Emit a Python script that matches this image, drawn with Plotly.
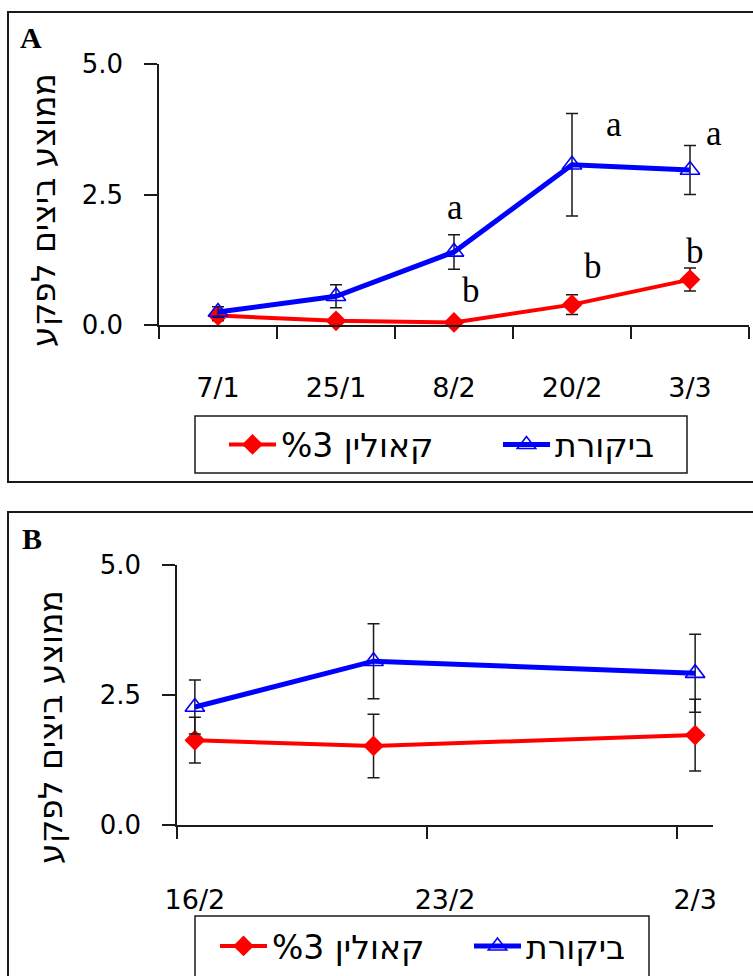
import plotly.graph_objects as go

W, H = 753, 976

# ---------------- data ----------------
# Panel A (category axis)
dates_a = ["7/1", "25/1", "8/2", "20/2", "3/3"]
control_a = [0.25, 0.55, 1.40, 3.07, 2.97]
control_a_err = [0.10, 0.22, 0.33, 0.98, 0.47]
kaolin_a = [0.18, 0.08, 0.05, 0.39, 0.87]
kaolin_a_err = [0.10, 0.04, 0.03, 0.19, 0.22]

# significance letters (panel A)
sig_dates = ["8/2", "8/2", "20/2", "20/2", "3/3", "3/3"]
sig_text = ["a", "b", "a", "b", "a", "b"]

# Panel B (date axis, year without 29 Feb)
dates_b = ["2009-02-16", "2009-02-21", "2009-03-02"]
control_b = [2.27, 3.15, 2.92]
control_b_err = [0.52, 0.72, 0.75]
kaolin_b = [1.63, 1.52, 1.73]
kaolin_b_err = [0.44, 0.61, 0.69]
tick_dates_b = ["2009-02-16", "2009-02-23", "2009-03-02"]
tick_text_b = ["16/2", "23/2", "2/3"]

y_ticks = [0, 2.5, 5.0]
y_tick_text = ["0.0", "2.5", "5.0"]

name_control = "ביקורת"
name_kaolin = "%3 קאולין"
y_title = "ממוצע ביצים לפקע"

# ---------------- helpers ----------------
def px(x):
    return x / W

def py(y):
    return 1 - y / H

RED = "#ff0000"
BLUE = "#0000ff"
INK = "#1a1a1a"
SANS = "DejaVu Sans"
SERIF = "Liberation Serif"

fig = go.Figure()

def add_series(x, y, err, name, color, symbol, msize, lw, xa, ya, legend, mline=None):
    fig.add_trace(go.Scatter(
        x=x, y=y, name=name, mode="lines+markers",
        line=dict(color=color, width=lw),
        marker=dict(symbol=symbol, size=msize, color=color,
                    line=dict(color=color, width=mline if mline else 0)),
        error_y=dict(type="data", array=err, visible=True, color=INK,
                     thickness=1.5, width=6),
        xaxis=xa, yaxis=ya, legend=legend, cliponaxis=False,
    ))

add_series(dates_a, kaolin_a, kaolin_a_err, name_kaolin, RED, "diamond", 16, 4, "x", "y", "legend")
add_series(dates_a, control_a, control_a_err, name_control, BLUE, "triangle-up-open", 17, 5, "x", "y", "legend", 1.6)
add_series(dates_b, kaolin_b, kaolin_b_err, name_kaolin, RED, "diamond", 16, 4, "x2", "y2", "legend2")
add_series(dates_b, control_b, control_b_err, name_control, BLUE, "triangle-up-open", 17, 5, "x2", "y2", "legend2", 1.6)

axis_common = dict(showline=True, linecolor=INK, linewidth=1.5, showgrid=False,
                   zeroline=False, ticks="outside", tickwidth=1.5, tickcolor=INK)

yaxis_common = dict(axis_common, range=[0, 5], tickvals=y_ticks, ticktext=y_tick_text,
                    ticklen=13, tickfont=dict(family=SANS, size=26, color="black"),
                    ticklabelstandoff=16)

legend_common = dict(orientation="h", xanchor="left", yanchor="middle",
                     font=dict(family=SANS, size=33, color="black"),
                     bgcolor="rgba(0,0,0,0)", borderwidth=0, itemwidth=47,
                     entrywidthmode="pixels", traceorder="normal")

fig.update_layout(
    width=W, height=H,
    margin=dict(l=0, r=0, t=0, b=0, autoexpand=False),
    paper_bgcolor="white", plot_bgcolor="white",
    showlegend=True,
    xaxis=dict(axis_common, domain=[px(159), px(749)], anchor="y", type="category",
               range=[-0.5, 4.5], tickson="boundaries", ticklen=12,
               tickfont=dict(family=SANS, size=27, color="black"),
               ticklabelstandoff=38),
    yaxis=dict(yaxis_common, domain=[py(325), py(64)], anchor="x"),
    xaxis2=dict(axis_common, domain=[px(177), px(713)], anchor="y2", type="date",
                range=["2009-02-15 12:00", "2009-03-02 12:00"],
                tickvals=tick_dates_b, ticktext=tick_text_b, ticklen=12,
                tickcolor="rgba(0,0,0,0)",
                minor=dict(tickvals=["2009-02-15 12:00", "2009-02-22 12:00", "2009-03-01 12:00"],
                           ticks="outside", ticklen=12, tickwidth=1.5, tickcolor=INK, showgrid=False),
                tickfont=dict(family=SANS, size=27, color="black"),
                ticklabelstandoff=38),
    yaxis2=dict(yaxis_common, domain=[py(825), py(565)], anchor="x2"),
    legend=dict(legend_common, x=px(224), y=py(444.5), entrywidth=212),
    legend2=dict(legend_common, x=px(215), y=py(946), entrywidth=192),
)

# frames of the two panels and of the legends
frame = dict(type="rect", xref="paper", yref="paper", line=dict(color=INK, width=2),
             fillcolor="rgba(0,0,0,0)", layer="below")
fig.add_shape(frame, x0=px(8), x1=px(760), y0=py(482), y1=py(12))
fig.add_shape(frame, x0=px(8), x1=px(760), y0=py(990), y1=py(512))
fig.add_shape(dict(frame, line=dict(color=INK, width=1.5)), x0=px(195), x1=px(687), y0=py(473), y1=py(416))
fig.add_shape(dict(frame, line=dict(color=INK, width=1.5)), x0=px(195), x1=px(649), y0=py(990), y1=py(916))

# panel letters
for letter, (lx, ly) in zip(["A", "B"], [(31, 38), (32, 538)]):
    fig.add_annotation(text=letter, xref="paper", yref="paper", x=px(lx), y=py(ly),
                       showarrow=False, xanchor="center", yanchor="middle",
                       font=dict(family=SERIF, size=30, color="black", weight="bold"))

# y titles
for (tx, ty) in [(43, 210), (50, 727)]:
    fig.add_annotation(text=y_title, xref="paper", yref="paper", x=px(tx), y=py(ty),
                       showarrow=False, textangle=-90, xanchor="center", yanchor="middle",
                       font=dict(family=SANS, size=33, color="black"))

# significance letters (data coords + pixel nudges)
sig_y = [2.26, 0.67, 3.85, 1.13, 3.66, 1.40]
sig_shift = [1, 17, 42, 21, 24, 5]
for d, t, yv, sh in zip(sig_dates, sig_text, sig_y, sig_shift):
    fig.add_annotation(text=t, xref="x", yref="y", x=d, y=yv, xshift=sh,
                       showarrow=False, xanchor="center", yanchor="middle",
                       font=dict(family=SERIF, size=35, color="black"))

fig.write_html("out.html",
               config={"displayModeBar": False},
               post_script="document.body.style.margin='0';document.body.style.overflow='hidden';")
